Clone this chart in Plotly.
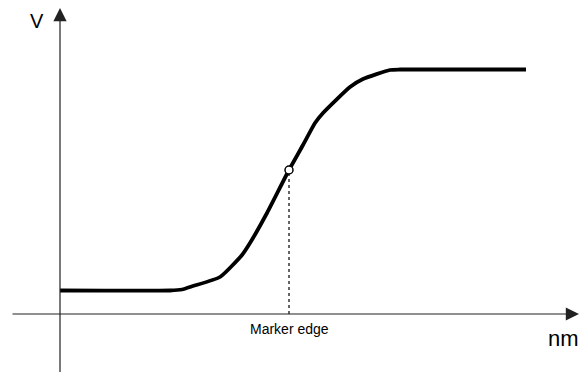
import plotly.graph_objects as go

# Response curve: position (nm) vs signal (V)
position_nm = [0, 110, 122, 133, 160, 182, 190, 207, 229, 243, 255, 263, 290, 303, 330, 340, 466]
signal_v = [23.5, 23.5, 24.5, 28, 37, 59, 71, 101, 144, 169, 191, 201, 227, 235, 244, 244.5, 244.5]

# Edge point on the curve
edge_nm = 229
edge_v = 144
edge_label = "Marker edge"

x_label = "nm"
y_label = "V"

FONT = "Liberation Sans, Arial, Helvetica, sans-serif"
AXIS_COLOR = "#222222"

fig = go.Figure()

fig.add_trace(go.Scatter(
    x=position_nm, y=signal_v, mode="lines",
    line=dict(color="black", width=3.8, shape="spline", smoothing=0.5),
    hoverinfo="skip", showlegend=False,
))

# dashed drop line from the edge point to the x axis
fig.add_trace(go.Scatter(
    x=[edge_nm, edge_nm], y=[0, edge_v], mode="lines",
    line=dict(color="black", width=1.2, dash="3px,3px"),
    hoverinfo="skip", showlegend=False,
))

fig.add_trace(go.Scatter(
    x=[edge_nm], y=[edge_v], mode="markers",
    marker=dict(size=8, color="white", line=dict(color="black", width=1.5)),
    hoverinfo="skip", showlegend=False,
))

# axes drawn as arrows
fig.add_annotation(x=519, y=0, ax=-49, ay=0, xref="x", yref="y", axref="x", ayref="y",
                   showarrow=True, arrowhead=2, arrowsize=2.2, arrowwidth=1.2,
                   arrowcolor=AXIS_COLOR, text="")
fig.add_annotation(x=0, y=306, ax=0, ay=-60, xref="x", yref="y", axref="x", ayref="y",
                   showarrow=True, arrowhead=2, arrowsize=2.2, arrowwidth=1.2,
                   arrowcolor=AXIS_COLOR, text="")

fig.add_annotation(x=edge_nm, y=-15, xref="x", yref="y", text=edge_label,
                   showarrow=False, font=dict(family=FONT, size=14, color="black"))
fig.add_annotation(x=-23, y=293, xref="x", yref="y", text=y_label,
                   showarrow=False, font=dict(family=FONT, size=20, color="black"))
fig.add_annotation(x=503, y=-24, xref="x", yref="y", text=x_label,
                   showarrow=False, font=dict(family=FONT, size=22, color="black"))

fig.update_xaxes(visible=False, range=[-60, 519], fixedrange=True)
fig.update_yaxes(visible=False, range=[-58, 314], fixedrange=True)
fig.update_layout(
    width=579, height=372,
    margin=dict(l=0, r=0, t=0, b=0),
    paper_bgcolor="white", plot_bgcolor="white",
    showlegend=False,
)

fig.write_html("out.html")
